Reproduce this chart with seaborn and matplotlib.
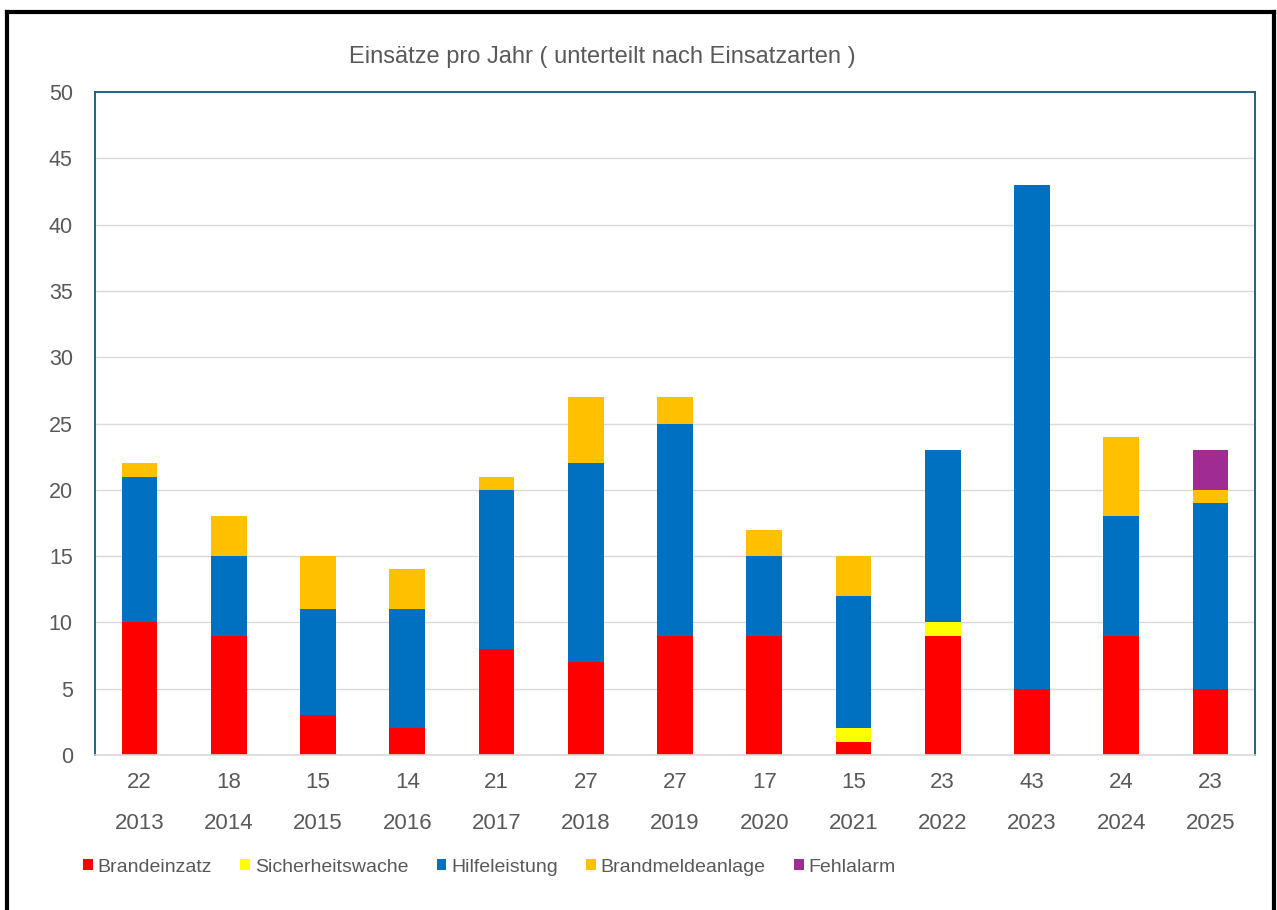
import numpy as np
import matplotlib
matplotlib.use("Agg")
import matplotlib.pyplot as plt
from matplotlib.patches import Patch
from matplotlib.lines import Line2D
import seaborn as sns

# Einsatzdaten je Jahr
years = ["2013", "2014", "2015", "2016", "2017", "2018", "2019",
         "2020", "2021", "2022", "2023", "2024", "2025"]
brandeinzatz = [10, 9, 3, 2, 8, 7, 9, 9, 1, 9, 5, 9, 5]
sicherheitswache = [0, 0, 0, 0, 0, 0, 0, 0, 1, 1, 0, 0, 0]
hilfeleistung = [11, 6, 8, 9, 12, 15, 16, 6, 10, 13, 38, 9, 14]
brandmeldeanlage = [1, 3, 4, 3, 1, 5, 2, 2, 3, 0, 0, 6, 1]
fehlalarm = [0, 0, 0, 0, 0, 0, 0, 0, 0, 0, 0, 0, 3]

series_names = ["Brandeinzatz", "Sicherheitswache", "Hilfeleistung",
                "Brandmeldeanlage", "Fehlalarm"]
series_colors = ["#FF0000", "#FFFF00", "#0070C0", "#FFC000", "#A02B93"]

sns.set_style("white")
plt.rcParams["font.family"] = ["Liberation Sans", "DejaVu Sans"]
text_color = "#595959"

layers = np.array([brandeinzatz, sicherheitswache, hilfeleistung,
                   brandmeldeanlage, fehlalarm])
cumulative = np.cumsum(layers, axis=0)
totals = cumulative[-1]

W, H = 1277, 910
fig = plt.figure(figsize=(W / 100, H / 100), dpi=100)
ax = fig.add_axes([95 / W, 1 - 755 / H, 1160 / W, 663 / H])

# Stacked bars: draw cumulative heights from the top layer downwards
for k in range(len(series_names) - 1, -1, -1):
    sns.barplot(x=years, y=cumulative[k], color=series_colors[k],
                saturation=1, width=0.4, linewidth=0, ax=ax)

ax.set_xlim(-0.5, len(years) - 0.5)
ax.set_ylim(0, 50)
ax.set_yticks(np.arange(0, 51, 5))
ax.set_xlabel("")
ax.set_ylabel("")

ax.yaxis.grid(True, color="#D9D9D9", linewidth=1)
ax.xaxis.grid(False)
ax.set_axisbelow(True)

for side in ["left", "top", "right"]:
    ax.spines[side].set_color("#1F6384")
    ax.spines[side].set_linewidth(1.4)
ax.spines["bottom"].set_color("#D9D9D9")
ax.spines["bottom"].set_linewidth(1.2)

# Two-row category labels: total on top, year below
ax.set_xticks(range(len(years)))
ax.set_xticklabels([f"{t}\n{y}" for t, y in zip(totals, years)],
                   linespacing=2.2)
ax.set_xticks(np.arange(-0.5, len(years), 1), minor=True)
ax.tick_params(axis="x", which="major", length=0, pad=12.5,
               labelsize=16, labelcolor=text_color)
ax.tick_params(axis="x", which="minor", length=59, width=1.2,
               color="#D9D9D9", direction="out")
ax.tick_params(axis="y", length=0, pad=16, labelsize=15.5,
               labelcolor=text_color)

fig.text(602 / W, 1 - 57 / H,
         "Einsätze pro Jahr ( unterteilt nach Einsatzarten )",
         ha="center", va="center", fontsize=17, color=text_color)

handles = [Patch(facecolor=c, edgecolor="none") for c in series_colors]
leg = fig.legend(handles, series_names, loc="center left",
                 bbox_to_anchor=(83 / W, 1 - 867 / H), ncol=5,
                 frameon=False, fontsize=14, handlelength=0.5,
                 handleheight=0.5, handletextpad=0.25, columnspacing=1.45,
                 borderaxespad=0, borderpad=0)
for t in leg.get_texts():
    t.set_color(text_color)

# Outer frame on the left, top and right
frame_kw = dict(color="black", linewidth=3, transform=fig.transFigure,
                solid_capstyle="projecting")
fig.add_artist(Line2D([7 / W, 7 / W], [0, 1 - 12 / H], **frame_kw))
fig.add_artist(Line2D([7 / W, 1 - 3 / W], [1 - 12 / H, 1 - 12 / H], **frame_kw))
fig.add_artist(Line2D([1 - 3 / W, 1 - 3 / W], [0, 1 - 12 / H], **frame_kw))

fig.savefig("out.png", dpi=100, facecolor="white")
